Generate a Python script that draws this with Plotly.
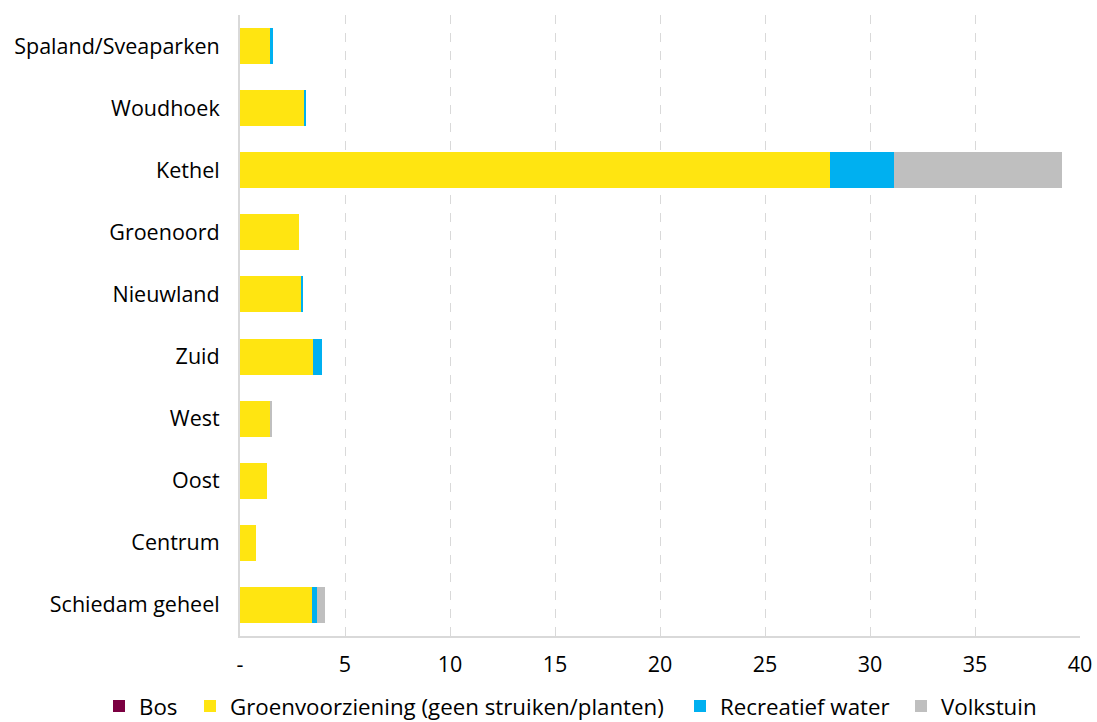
import plotly.graph_objects as go

categories = ["Spaland/Sveaparken", "Woudhoek", "Kethel", "Groenoord", "Nieuwland",
              "Zuid", "West", "Oost", "Centrum", "Schiedam geheel"]
bos = [0, 0, 0, 0, 0, 0, 0, 0, 0, 0]
groen = [1.45, 3.05, 28.1, 2.81, 2.92, 3.48, 1.44, 1.3, 0.75, 3.43]
water = [0.12, 0.08, 3.05, 0.0, 0.1, 0.42, 0.0, 0.0, 0.0, 0.22]
volkstuin = [0.0, 0.0, 8.0, 0.0, 0.0, 0.0, 0.07, 0.0, 0.0, 0.41]
tick_vals = [0, 5, 10, 15, 20, 25, 30, 35, 40]
tick_text = ["-", "5", "10", "15", "20", "25", "30", "35", "40"]

series = [
    ("Bos", bos, "#7B0041"),
    ("Groenvoorziening (geen struiken/planten)", groen, "#FFE511"),
    ("Recreatief water", water, "#00B0F0"),
    ("Volkstuin", volkstuin, "#BFBFBF"),
]

W, H = 1097, 722
L, R, T, B = 240, 17, 15, 86
plot_w = W - L - R
plot_h = H - T - B

# legend text start positions (px) for each entry
legend_text_x = [140, 231, 721, 942]
legend_y_px = 706

FONT = "Open Sans"
FS = 21.5
LFS = 22.3

fig = go.Figure()
legend_layouts = {}
for i, (name, vals, col) in enumerate(series):
    lname = "legend" if i == 0 else f"legend{i + 1}"
    fig.add_trace(go.Bar(
        y=categories, x=vals, name=name, orientation="h",
        marker=dict(color=col, line=dict(width=0)),
        width=0.58, legend=lname,
    ))
    legend_layouts[lname] = dict(
        orientation="h",
        x=(legend_text_x[i] - 41 - L) / plot_w, xanchor="left",
        y=-(legend_y_px - (T + plot_h)) / plot_h, yanchor="middle",
        font=dict(family=FONT, size=LFS, color="#000000"),
        bgcolor="rgba(0,0,0,0)", borderwidth=0,
        itemwidth=30,
    )

fig.update_layout(
    barmode="stack",
    width=W, height=H,
    margin=dict(l=L, r=R, t=T, b=B, autoexpand=False),
    plot_bgcolor="white", paper_bgcolor="white",
    font=dict(family=FONT, size=FS, color="#000000"),
    showlegend=True,
    xaxis=dict(range=[0, 40], tickvals=tick_vals, ticktext=tick_text,
               showgrid=True, gridcolor="#D9D9D9", griddash="dash", gridwidth=1,
               zeroline=False, showline=True, linecolor="#D9D9D9", linewidth=2,
               ticks="", ticklabelstandoff=8, tickfont=dict(family=FONT, size=FS)),
    yaxis=dict(autorange="reversed", showline=True, linecolor="#D9D9D9", linewidth=2,
               showgrid=False, ticks="", ticklabelstandoff=14,
               tickfont=dict(family=FONT, size=FS)),
    **legend_layouts,
)
fig.write_html(
    "out.html",
    config={"displayModeBar": False},
    post_script="document.body.style.margin='0';document.body.style.overflow='hidden';",
)
